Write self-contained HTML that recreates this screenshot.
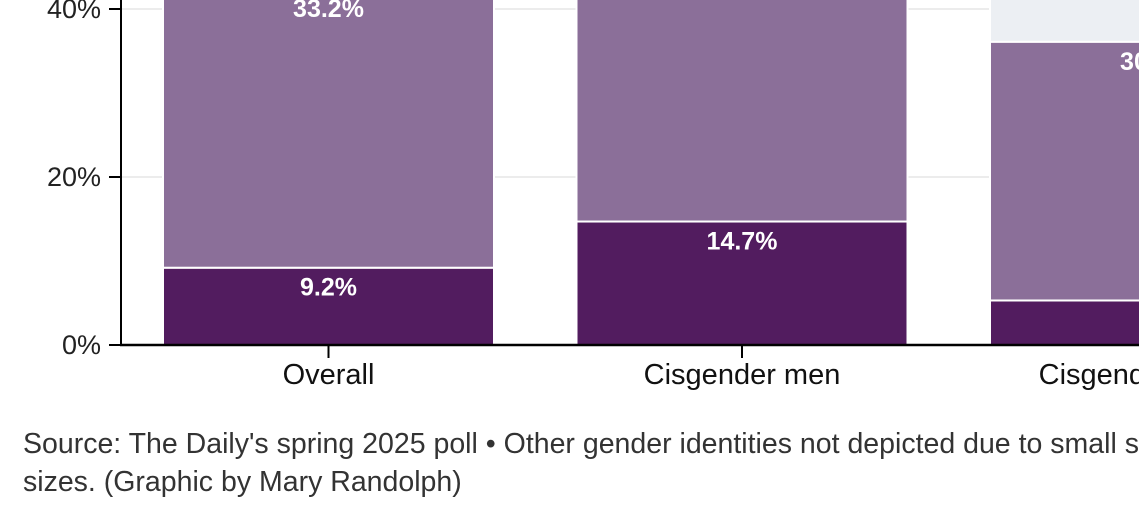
<!DOCTYPE html>
<html><head><meta charset="utf-8"><style>
html,body{margin:0;padding:0;background:#fff;width:1139px;height:522px;overflow:hidden}
svg{display:block;font-family:"Liberation Sans",sans-serif}
</style></head><body>
<svg id="chart" width="1139" height="522"></svg>
<script>
const categories = ["Overall", "Cisgender men", "Cisgender women"];
const darkValues = [9.2, 14.7, 5.3];
const midValues = [33.2, 31.5, 30.8];
const lightValues = [20, 20, 20];
const yTicks = [0, 20, 40];
const yTickLabels = ["0%", "20%", "40%"];

const NS = "http://www.w3.org/2000/svg";
const svg = document.getElementById("chart");
const y0 = 345, pxPer = 8.4;
const y = v => y0 - v * pxPer;
const bandStart = 163, bandStep = 413.5, bandW = 331;
const x = i => bandStart + i * bandStep;
function mk(tag, attrs, parent) {
  const e = document.createElementNS(NS, tag);
  for (const k in attrs) e.setAttribute(k, attrs[k]);
  (parent || svg).appendChild(e);
  return e;
}
yTicks.forEach((t, i) => {
  if (t > 0) {
    const g = mk("line", {x1: 121, x2: 1139, y1: y(t), y2: y(t), stroke: "#ececec", "stroke-width": 2});
    
    
  }
  const tk = mk("line", {x1: 109, x2: 121, y1: y(t), y2: y(t), stroke: "#000", "stroke-width": 2});
  
  
  const lb = mk("text", {x: 101, y: y(t) + 9, "text-anchor": "end", "font-size": 27, fill: "#222"});
  lb.textContent = yTickLabels[i];
  
  
});
categories.forEach((c, i) => {
  const segs = [[darkValues[i], "#521c5f"], [midValues[i], "#8b6f99"], [lightValues[i], "#eceff3"]];
  let base = 0;
  segs.forEach(([v, col], j) => {
    const r = mk("rect", {x: x(i), y: y(base + v), width: bandW, height: v * pxPer, fill: col, stroke: "#fff", "stroke-width": 2});
    
    
    if (j < 2 && v >= 6) {
      const t = mk("text", {x: x(i) + bandW / 2, y: y(base + v) + 28, "text-anchor": "middle", "font-size": 25, "font-weight": "bold", fill: "#fff"});
      t.textContent = v.toFixed(1) + "%";
      
      
    }
    base += v;
  });
  const tk = mk("line", {x1: x(i) + bandW / 2, x2: x(i) + bandW / 2, y1: y0, y2: y0 + 13, stroke: "#000", "stroke-width": 2});
  
  
  const cl = mk("text", {x: x(i) + bandW / 2, y: 384, "text-anchor": "middle", "font-size": 29, fill: "#111"});
  cl.textContent = c;
  
  
});
const ya = mk("line", {x1: 121, x2: 121, y1: 0, y2: y0 + 1, stroke: "#000", "stroke-width": 2});


const xa = mk("line", {x1: 120, x2: 1139, y1: y0, y2: y0, stroke: "#000", "stroke-width": 2.5});


const c1 = mk("text", {x: 23, y: 453, "font-size": 28.5, fill: "#333"});
c1.textContent = "Source: The Daily's spring 2025 poll \u2022 Other gender identities not depicted due to small sample";


const c2 = mk("text", {x: 23, y: 491, "font-size": 28.5, fill: "#333"});
c2.textContent = "sizes. (Graphic by Mary Randolph)";


</script>
</body></html>
